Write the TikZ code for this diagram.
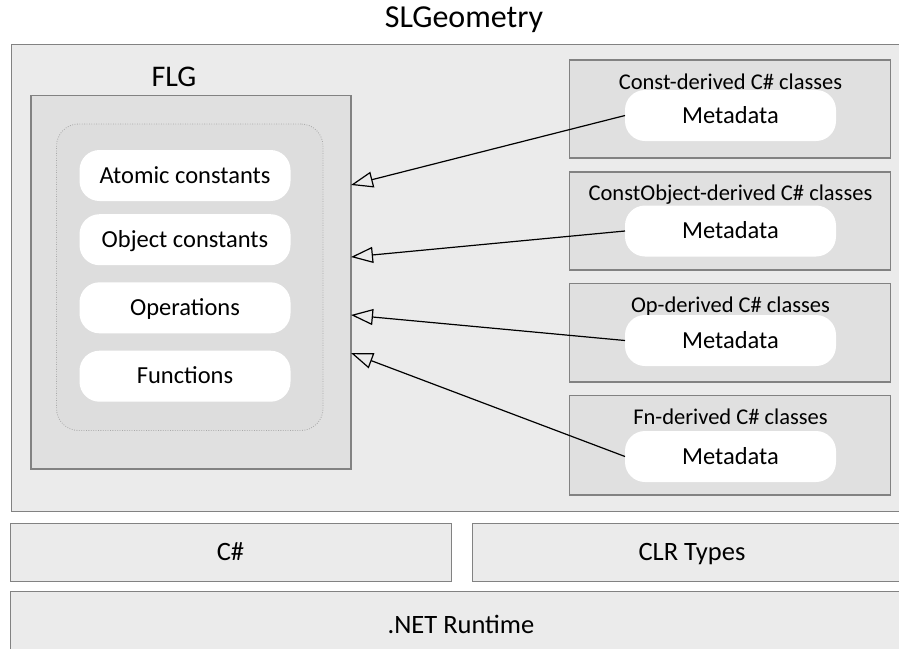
\documentclass[tikz,border=0pt]{standalone}
\usepackage{fontspec}
\setmainfont{Carlito}
\usetikzlibrary{arrows.meta}
\definecolor{layerfill}{HTML}{EBEBEB}
\definecolor{panelfill}{HTML}{E0E0E0}
\definecolor{groupfill}{HTML}{DDDDDD}
\definecolor{frame}{HTML}{828282}
\definecolor{dotframe}{HTML}{A8A8A8}
\newcommand{\fsz}[1]{\fontsize{#1}{#1}\selectfont}

\begin{document}
\begin{tikzpicture}[x=1pt,y=-1pt,
  box/.style={rectangle, inner sep=0pt, outer sep=0pt},
  layer/.style={box, draw=frame, fill=layerfill, line width=0.9pt},
  panel/.style={box, draw=frame, fill=panelfill, line width=1.1pt},
  group/.style={box, draw=dotframe, dash pattern=on 0.8pt off 1.6pt, fill=groupfill,
                rounded corners=22pt, line width=0.8pt},
  pill/.style={box, fill=white, rounded corners=20pt, minimum width=211pt,
               minimum height=51pt, font=\fsz{24.5}, text height=15.5pt, text depth=0pt},
  layertext/.style={font=\fsz{26.5}, text height=16.7pt, text depth=0pt},
  caption/.style={anchor=base, inner sep=0pt, font=\fsz{22.5}},
  heading/.style={anchor=base, inner sep=0pt},
  inherit/.style={draw=black, line width=1.2pt, -{Triangle[open, length=22pt, width=16pt]}}
]
\useasboundingbox (0,0) rectangle (899,648);
\clip (0,0) rectangle (899,648);

% platform layers
\node[layer, minimum width=906pt, minimum height=467pt] (slg) at (464,277.5) {};
\node[heading, font=\fsz{32}] (slgtitle) at (464,27.3) {SLGeometry};
\node[layer, layertext, minimum width=441pt, minimum height=58pt] (csharp) at (230.5,552) {C\#};
\node[layer, layertext, minimum width=440pt, minimum height=58pt] (clr) at (692,552) {CLR Types};
\node[layer, layertext, minimum width=902pt, minimum height=69pt] (net) at (461,625.5) {.NET Runtime};

% FLG with its contents
\node[panel, minimum width=320pt, minimum height=373.5pt] (flg) at (191,282.25) {};
\node[heading, font=\fsz{30}] (flgtitle) at (174,86) {FLG};
\node[group, minimum width=266.5pt, minimum height=306.5pt] (flggroup) at (189.75,277.25) {};
\node[pill] (atomic) at (185,175.5) {Atomic constants};
\node[pill] (object) at (185,239.7) {Object constants};
\node[pill] (ops) at (185,307.8) {Operations};
\node[pill] (fns) at (185,376.2) {Functions};

% derived C# classes
\node[panel, minimum width=321pt, minimum height=98pt] (cbox) at (730,109) {};
\node[caption] (ctitle) at (730.5,89.3) {Const-derived C\# classes};
\node[pill] (cmeta) at (730.5,115.5) {Metadata};

\node[panel, minimum width=321pt, minimum height=98pt] (obox) at (730,221) {};
\node[caption] (otitle) at (730.5,200.7) {ConstObject-derived C\# classes};
\node[pill] (ometa) at (730.5,231) {Metadata};

\node[panel, minimum width=321pt, minimum height=98.5pt] (pbox) at (730,332.75) {};
\node[caption] (ptitle) at (730.5,312.3) {Op-derived C\# classes};
\node[pill] (pmeta) at (730.5,340.5) {Metadata};

\node[panel, minimum width=321pt, minimum height=99.5pt] (fbox) at (730,445.25) {};
\node[caption] (ftitle) at (730.5,424.3) {Fn-derived C\# classes};
\node[pill] (fmeta) at (730.5,456.5) {Metadata};

% inheritance arrows into FLG
\coordinate (flgA) at (351,185);
\coordinate (flgB) at (351,257);
\coordinate (flgC) at (351,315);
\coordinate (flgD) at (351,353);
\draw[inherit] (cmeta.west) -- (flgA);
\draw[inherit] (ometa.west) -- (flgB);
\draw[inherit] (pmeta.west) -- (flgC);
\draw[inherit] (fmeta.west) -- (flgD);
\end{tikzpicture}
\end{document}
